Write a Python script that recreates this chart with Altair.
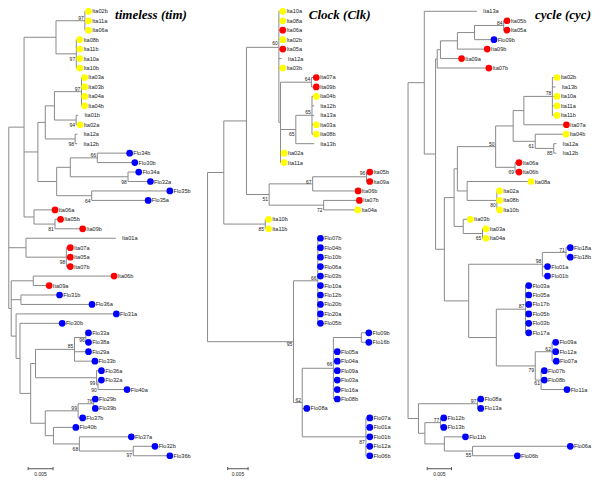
import altair as alt
import pandas as pd

# ---------------- timeless (tim) ----------------
TIM_LEAVES = ["Ita02b", "Ita11a", "Ita06a", "Ita08b", "Ita11b", "Ita10a", "Ita10b",
              "Ita03a", "Ita03b", "Ita04a", "Ita04b", "Ita01b", "Ita02a", "Ita12a",
              "Ita12b", "Flo34b", "Flo30b", "Flo34a", "Flo32a", "Flo35b", "Flo35a",
              "Ita06a", "Ita05b", "Ita09b", "Ita01a", "Ita07a", "Ita05a", "Ita07b",
              "Ita06b", "Ita09a", "Flo31b", "Flo36a", "Flo31a", "Flo30b", "Flo33a",
              "Flo38a", "Flo29a", "Flo33b", "Flo36a", "Flo32a", "Flo40a", "Flo29b",
              "Flo39b", "Flo37b", "Flo40b", "Flo37a", "Flo32b", "Flo36b"]
TIM_TIP = [80.2, 80.2, 80.2, 71.2, 71.2, 71.2, 71.2, 76.2, 76.2, 76.2, 76.2, 72.2,
           71.5, 71.2, 71.2, 122.5, 127.8, 131.8, 143.8, 163.8, 141.5, 45.8, 51.5,
           74.2, 110.8, 61.5, 61.5, 61.5, 106.5, 39.8, 50.5, 83.8, 108.8, 53.2, 80.2,
           80.2, 80.2, 86.8, 93.5, 93.5, 119.8, 87.2, 87.2, 74.2, 67.2, 124.2, 148.5,
           163.8]
TIM_COLOR = list("yyyyyyyyyyy" "n" "y" "nn" "bbbbbb" "rrr" "n" "rrrrr" "bbbbbbbbbbbbbbbbbb")
# (node, depth, children, bootstrap, label offset)
TIM_NODES = [
    ("A", 79.0, [0, 1, 2], "97", -3),
    ("B", 70.2, [3, 4, 5, 6], "97", 5),
    ("AB", 49.3, ["A", "B"], "", 0),
    ("C34", 75.5, [7, 8, 9, 10], "97", -3),
    ("C12", 70.0, [11, 12], "94", 5),
    ("D", 47.7, ["C34", "C12"], "", 0),
    ("I12", 69.0, [13, 14], "98", 5),
    ("E", 38.3, ["D", "I12"], "", 0),
    ("N66", 91.7, [15, 16], "66", -3),
    ("N98f", 123.3, [17, 18], "98", 5),
    ("Y1", 64.0, ["N66", "N98f"], "", 0),
    ("N64", 86.0, [19, 20], "64", 5),
    ("Y", 50.0, ["Y1", "N64"], "", 0),
    ("F", 30.7, ["E", "Y"], "", 0),
    ("N81", 48.3, [22, 23], "81", 5),
    ("H", 26.7, [21, "N81"], "", 0),
    ("G", 16.5, ["AB", "F", "H"], "", 0),
    ("N98r", 60.0, [25, 26, 27], "98", 5),
    ("I", 18.5, [24, "N98r"], "", 0),
    ("J", 26.0, [28, 29], "", 0),
    ("K", 13.3, [30, 31], "", 0),
    ("N96", 80.0, [34, 35], "96", 3),
    ("N85", 68.3, ["N96", 36, 37], "85", -3),
    ("N90", 92.5, [39, 40], "90", 5),
    ("N99a", 91.0, [38, "N90"], "99", 5),
    ("L", 28.3, ["N85", "N99a"], "", 0),
    ("N76", 88.0, [41, 42], "76", -3),
    ("N99b", 72.0, ["N76", 43], "99", -3),
    ("N97", 128.7, [46, 47], "97", 4),
    ("N68", 73.3, [45, "N97"], "68", 5),
    ("V", 46.7, [44, "N68"], "", 0),
    ("T", 38.3, ["N99b", "V"], "", 0),
    ("S", 23.3, ["L", "T"], "", 0),
    ("R", 12.3, [33, "S"], "", 0),
    ("Q", 8.3, [32, "R"], "", 0),
    ("P", 3.3, ["J", "K", "Q"], "", 0),
    ("root", 0.8, ["G", "I", "P"], "", 0),
]

# ---------------- Clock (Clk) ----------------
CLK_LEAVES = ["Ita10a", "Ita08a", "Ita06a", "Ita02b", "Ita05a", "Ita12a", "Ita03b",
              "Ita07a", "Ita09b", "Ita04b", "Ita12b", "Ita13a", "Ita03a", "Ita08b",
              "Ita13b", "Ita02a", "Ita11a", "Ita05b", "Ita09a", "Ita06b", "Ita07b",
              "Ita04a", "Ita10b", "Ita11b", "Flo07b", "Flo04b", "Flo10b", "Flo06a",
              "Flo03b", "Flo10a", "Flo12b", "Flo20b", "Flo20a", "Flo05b", "Flo09b",
              "Flo16b", "Flo05a", "Flo04a", "Flo09a", "Flo03a", "Flo16a", "Flo08b",
              "Flo08a", "Flo07a", "Flo01a", "Flo01b", "Flo12a", "Flo06b"]
CLK_TIP = [279.8, 279.8, 279.8, 279.8, 279.8, 281.2, 279.8, 314.2, 314.2, 314.2,
           314.5, 314.5, 314.2, 314.2, 314.5, 281.2, 281.2, 369.2, 369.2, 357.2,
           358.5, 356.8, 265.2, 265.2, 318.5, 318.5, 318.5, 318.5, 318.5, 318.5,
           318.5, 318.5, 318.5, 318.5, 368.2, 368.2, 335.8, 335.8, 335.8, 335.8,
           335.8, 335.8, 304.5, 369.2, 369.2, 369.2, 369.2, 369.2]
CLK_COLOR = list("yyryr" "n" "y" "rry" "nn" "yy" "n" "yy" "rrrr" "y" "yy" "bbbbbbbbbbbbbbbbbbbbbbbb")
CLK_NODES = [
    ("n64", 311.7, [7, 8], "64", -3.5),
    ("n65a", 312.3, [9, 10, 11, 12, 13], "65", -3),
    ("n65b", 295.7, ["n65a", 14], "65", 5),
    ("S1", 280.0, ["n64", "n65b", 15, 16], "", 0),
    ("M1", 278.3, [0, 1, 2, 3, 4, 5, 6, "S1"], "60", -4),
    ("n96", 368.3, [17, 18], "96", -3.6),
    ("n67", 313.0, ["n96", 19], "67", -2.4),
    ("n72", 324.3, [20, 21], "72", 4.6),
    ("n51", 268.3, ["n67", "n72"], "51", 5),
    ("P1", 245.0, ["M1", "n51"], "", 0),
    ("n85", 264.3, [22, 23], "85", 4.8),
    ("Q1", 221.7, ["P1", "n85"], "", 0),
    ("f66a", 318.3, list(range(24, 34)), "66", -2.7),
    ("f9x", 363.0, [34, 35], "", 0),
    ("f66b", 334.3, ["f9x", 36, 37, 38, 39, 40, 41], "66", -4),
    ("f87", 367.7, [43, 44, 45, 46, 47], "87", 5),
    ("f62", 302.3, ["f66b", 42, "f87"], "62", -3),
    ("f95", 293.3, ["f66a", "f62"], "95", 2),
    ("root", 205.0, ["Q1", "f95"], "", 0),
]
CLK_Y_FIX = {"M1": 40.7}

# ---------------- cycle (cyc) ----------------
CYC_LEAVES = ["Ita13a", "Ita05b", "Ita05a", "Flo09b", "Ita09b", "Ita09a", "Ita07b",
              "Ita02b", "Ita13b", "Ita10a", "Ita11a", "Ita11b", "Ita07a", "Ita04b",
              "Ita12a", "Ita12b", "Ita06a", "Ita06b", "Ita08a", "Ita02a", "Ita08b",
              "Ita10b", "Ita03b", "Ita03a", "Ita04a", "Flo18a", "Flo18b", "Flo01a",
              "Flo01b", "Flo03a", "Flo05a", "Flo17b", "Flo05b", "Flo03b", "Flo17a",
              "Flo09a", "Flo12a", "Flo07a", "Flo07b", "Flo08b", "Flo11a", "Flo08a",
              "Flo13a", "Flo12b", "Flo13b", "Flo11b", "Flo06a", "Flo06b"]
CYC_TIP = [481.8, 510.2, 510.2, 496.8, 489.8, 463.5, 491.5, 561.5, 562.5, 561.5,
           561.5, 561.5, 571.2, 570.8, 563.5, 563.5, 522.5, 522.5, 534.8, 502.5,
           502.5, 502.5, 472.5, 488.5, 488.5, 575.2, 575.2, 551.8, 551.8, 532.5,
           532.5, 532.5, 532.5, 532.5, 532.5, 560.2, 560.2, 560.8, 548.5, 548.5,
           571.8, 483.2, 483.2, 445.2, 445.2, 467.5, 575.2, 520.8]
CYC_COLOR = list("n" "rr" "b" "rrr" "y" "n" "yyy" "r" "y" "nn" "rr" "yyyyyyy" "bbbbbbbbbbbbbbbbbbbbbbb")
CYC_NODES = [
    ("r84", 509.3, [1, 2], "84", -3),
    ("ra", 479.3, ["r84", 3], "", 0),
    ("rb", 461.7, ["ra", 4], "", 0),
    ("rc", 444.3, ["rb", 5], "", 0),
    ("rd", 441.0, ["rc", 6], "", 0),
    ("r78", 559.3, [7, 8, 9, 10, 11], "78", -3),
    ("re", 530.0, ["r78", 12], "", 0),
    ("rh", 560.7, [14, 15], "85", 5),
    ("rg", 541.7, [13, "rh"], "61", 5),
    ("rf", 519.0, ["re", "rg"], "", 0),
    ("rj", 521.0, [16, 17], "69", 5),
    ("ri", 501.0, ["rf", "rj"], "50", -3),
    ("rl", 502.3, [19, 20, 21], "80", 4.5),
    ("rk", 471.7, [18, "rl"], "", 0),
    ("rm", 461.7, ["ri", "rk"], "", 0),
    ("r65", 487.5, [23, 24], "65", 5),
    ("ro", 467.7, [22, "r65"], "", 0),
    ("rn", 458.3, ["rm", "ro"], "", 0),
    ("s71", 573.3, [25, 26], "71", -2.5),
    ("s98", 549.0, ["s71", 27, 28], "98", -3),
    ("s87", 531.7, [29, 30, 31, 32, 33, 34], "87", -3),
    ("s62", 559.0, [35, 36, 37], "62", -3),
    ("s61", 547.7, [38, 39, 40], "61", 2.5),
    ("s79", 541.7, ["s62", "s61"], "79", 4),
    ("sP", 501.7, ["s87", "s79"], "", 0),
    ("A5", 473.3, ["s98", "sP"], "", 0),
    ("A3", 448.3, ["rn", "A5"], "", 0),
    ("A2", 439.3, ["rd", "A3"], "", 0),
    ("A1", 427.7, [0, "A2"], "", 0),
    ("t97", 482.3, [41, 42], "97", -3),
    ("t77", 444.3, [43, 44], "77", -3),
    ("t55", 477.3, [46, 47], "55", 4),
    ("t2", 448.3, [45, "t55"], "", 0),
    ("t1", 428.3, ["t77", "t2"], "", 0),
    ("B1", 421.7, ["t97", "t1"], "", 0),
    ("root", 411.0, ["A1", "B1"], "", 0),
]

TITLES = ["timeless (tim)", "Clock (Clk)", "cycle (cyc)"]
SCALE_TEXT = "0.005"
SCALE_BARS = [(20.7, 46.3), (225.7, 246.7), (430.7, 455.7)]

# ---------------- layout constants ----------------
ROW0, ROW_STEP = 3.4, 9.78
TITLE_POS = [(110.0, 7.5), (309.0, 7.5), (541.5, 7.5)]
BAR_Y = 476.5

segs, dots, labels, boots = [], [], [], []


def build(leaves, tips, colors, nodes, yfix):
    pos = {}
    for i, name in enumerate(leaves):
        y = ROW0 + ROW_STEP * i
        pos[i] = (tips[i], y)
        if colors[i] != "n":
            dots.append({"x": tips[i] + 2.5, "y": y, "c": colors[i]})
        labels.append({"x": tips[i] + 6.3, "y": y, "t": name})
    for nid, x, ch, lab, dy in nodes:
        cy = [pos[c][1] for c in ch]
        y = yfix.get(nid, (min(cy) + max(cy)) / 2)
        pos[nid] = (x, y)
        segs.append({"x": x, "x2": x, "y": min(cy), "y2": max(cy)})
        for c in ch:
            segs.append({"x": x, "x2": pos[c][0], "y": pos[c][1], "y2": pos[c][1]})
        if lab:
            boots.append({"x": x - 1.2, "y": y + dy, "t": lab})


build(TIM_LEAVES, TIM_TIP, TIM_COLOR, TIM_NODES, {})
build(CLK_LEAVES, CLK_TIP, CLK_COLOR, CLK_NODES, CLK_Y_FIX)
build(CYC_LEAVES, CYC_TIP, CYC_COLOR, CYC_NODES, {})

bars, bar_text = [], []
for (a, b) in SCALE_BARS:
    bars.append({"x": a, "x2": b, "y": BAR_Y, "y2": BAR_Y})
    bars.append({"x": a, "x2": a, "y": BAR_Y - 1.8, "y2": BAR_Y + 1.5})
    bars.append({"x": b, "x2": b, "y": BAR_Y - 1.8, "y2": BAR_Y + 1.5})
    bar_text.append({"x": (a + b) / 2, "y": BAR_Y + 5.5, "t": SCALE_TEXT})

titles = [{"x": p[0], "y": p[1], "t": t} for t, p in zip(TITLES, TITLE_POS)]

xs = alt.Scale(domain=[0, 600], nice=False, zero=False)
ys = alt.Scale(domain=[0, 484], nice=False, zero=False, reverse=True)


def XE(f="x"):
    return alt.X(f"{f}:Q", scale=xs, axis=None)


def YE(f="y"):
    return alt.Y(f"{f}:Q", scale=ys, axis=None)


rules = alt.Chart(pd.DataFrame(segs)).mark_rule(color="#8a8a8a", strokeWidth=1).encode(
    x=XE(), x2="x2:Q", y=YE(), y2="y2:Q")
bar_rules = alt.Chart(pd.DataFrame(bars)).mark_rule(color="#555555", strokeWidth=1).encode(
    x=XE(), x2="x2:Q", y=YE(), y2="y2:Q")
pts = alt.Chart(pd.DataFrame(dots)).mark_circle(size=45, opacity=1).encode(
    x=XE(), y=YE(),
    color=alt.Color("c:N", scale=alt.Scale(domain=["y", "r", "b"],
                                           range=["#FFFF00", "#FF0000", "#0000FF"]),
                    legend=None))
leaf_text = alt.Chart(pd.DataFrame(labels)).mark_text(
    align="left", baseline="middle", fontSize=5.6, font="Liberation Sans", color="#222222"
).encode(x=XE(), y=YE(), text="t:N")
boot_text = alt.Chart(pd.DataFrame(boots)).mark_text(
    align="right", baseline="middle", fontSize=5, font="Liberation Sans", color="#222222"
).encode(x=XE(), y=YE(), text="t:N")
scale_text = alt.Chart(pd.DataFrame(bar_text)).mark_text(
    align="center", baseline="middle", fontSize=5, font="Liberation Sans", color="#222222"
).encode(x=XE(), y=YE(), text="t:N")
title_text = alt.Chart(pd.DataFrame(titles)).mark_text(
    align="left", baseline="middle", fontSize=13, font="Liberation Serif",
    fontStyle="italic", fontWeight="bold", color="#000000"
).encode(x=XE(), y=YE(), text="t:N")

chart = alt.layer(rules, bar_rules, pts, leaf_text, boot_text, scale_text, title_text).properties(
    width=584, height=468, padding=0, autosize=alt.AutoSizeParams(type="none")
).configure_view(stroke=None)

chart.save("out.html", embed_options={"renderer": "svg", "actions": False})
